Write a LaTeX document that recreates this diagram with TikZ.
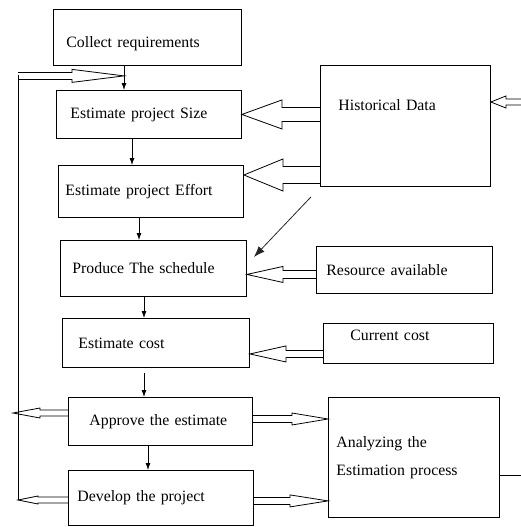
\documentclass[tikz,border=0pt]{standalone}
\usepackage{fontspec}
\setmainfont{Liberation Serif}
\usetikzlibrary{arrows.meta,calc}

\tikzset{
  box/.style={draw, line width=0.9pt, anchor=north west, align=left, inner ysep=0pt,
    font=\fontsize{15.8}{28}\selectfont},
  flow/.style={line width=0.8pt, -{Latex[length=7pt,width=5pt]}},
  hollow/.style n args={3}{line width=0.8pt, to path={
    let \p1=(\tikztostart), \p2=(\tikztotarget), \n1={ifthenelse(\x2>\x1,1,-1)} in
    (\x1,\y2+#1) -- ({\x2-(\n1)*#3},\y2+#1) -- ({\x2-(\n1)*#3},\y2+#2) -- (\x2,\y2)
    -- ({\x2-(\n1)*#3},\y2-#2) -- ({\x2-(\n1)*#3},\y2-#1) -- (\x1,\y2-#1)}},
}

\begin{document}
\begin{tikzpicture}[x=1pt, y=-1pt]
\useasboundingbox (0,0) rectangle (521,527);

\node[box, text width=162pt, inner xsep=13pt, text height=38pt, text depth=18pt] (collect) at (53,9) {Collect requirements};
\node[box, text width=157pt, inner xsep=14pt, minimum height=48pt] (size) at (56,90) {Estimate project Size};
\node[box, text width=171pt, inner xsep=7pt, minimum height=52pt] (effort) at (58,165) {Estimate project Effort};
\node[box, text width=162pt, inner xsep=12pt, minimum height=56pt] (sched) at (60,240) {Produce The schedule};
\node[box, text width=155pt, inner xsep=16pt, minimum height=49pt] (cost) at (62,318) {Estimate cost};
\node[box, text width=142pt, inner xsep=21pt, minimum height=48pt] (approve) at (68,397) {Approve the estimate};
\node[box, text width=167pt, inner xsep=9pt, minimum height=55pt] (develop) at (68,470) {Develop the project};

\node[box, text width=134pt, inner xsep=18pt, text height=45pt, text depth=76pt] (hist) at (320,65) {Historical Data};
\node[box, text width=156pt, inner xsep=10pt, minimum height=47pt] (resource) at (316,246) {Resource available};
\node[box, text width=116pt, inner xsep=27pt, text height=17pt, text depth=23pt] (current) at (323,323) {Current cost};
\node[box, text width=155pt, inner xsep=8pt, minimum height=120pt] (analyz) at (328,397) {Analyzing the\\Estimation process};

\coordinate (join) at ($(collect.south west)+(71,10)$);
\coordinate (loopT) at (18,75);
\coordinate (loopA) at (13,413);
\coordinate (loopD) at (18,500);
\coordinate (histin) at (521,102);
\coordinate (out) at (521,475);
\coordinate (diag) at ($(hist.south west)+(-9,10)$);
\coordinate (effortIn) at ($(effort.north east)+(0,10)$);
\coordinate (schedIn) at ($(sched.east)+(0,6)$);
\coordinate (costIn) at ($(cost.east)+(0,11)$);
\coordinate (approveOut) at ($(analyz.north west)+(0,22)$);
\coordinate (developOut) at ($(analyz.south west)+(0,-17)$);
\coordinate (histTip) at ($(hist.north east)+(0,37)$);
\coordinate (schedTip) at ($(sched.north east)+(7,17)$);

\draw[flow] ($(collect.south west)+(71,0)$) -- ($(size.north west)+(68,0)$);
\draw[flow] ($(size.south west)+(76,0)$) -- ($(effort.north west)+(74,0)$);
\draw[flow] ($(effort.south west)+(81,0)$) -- ($(sched.north west)+(79,0)$);
\draw[flow] ($(sched.south west)+(84,0)$) -- ($(cost.north west)+(82,0)$);
\draw[flow] ($(cost.south west)+(82,5)$) -- ($(approve.north west)+(76,0)$);
\draw[flow] ($(approve.south west)+(80,0)$) -- ($(develop.north west)+(80,0)$);

\draw[line width=0.8pt] (loopT) -- (loopD);
\draw[hollow={3.5pt}{6.5pt}{52pt}] (loopT) to (join);
\draw[hollow={3pt}{5pt}{27pt}] (approve.west) to (loopA);
\draw[hollow={3pt}{4pt}{20pt}] (develop.west) to (loopD);

\draw[hollow={7pt}{14.5pt}{40pt}] (hist.west) to (size.east);
\draw[hollow={8.5pt}{16pt}{39pt}] (hist.west) to (effortIn);
\draw[hollow={4pt}{8pt}{36pt}] (resource.west) to (schedIn);
\draw[hollow={3.5pt}{8pt}{36pt}] (current.west) to (costIn);
\draw[hollow={3.5pt}{6pt}{36pt}] (approve.east) to (approveOut);
\draw[hollow={3.5pt}{6pt}{38pt}] (develop.east) to (developOut);
\draw[hollow={3pt}{6pt}{15pt}] (histin) to (histTip);
\draw[line width=0.8pt] (analyz.east |- out) -- (out);
\draw[gray!30!black, line width=0.8pt, -{Latex[length=11pt,width=8pt]}] (diag) -- (schedTip);
\end{tikzpicture}
\end{document}
